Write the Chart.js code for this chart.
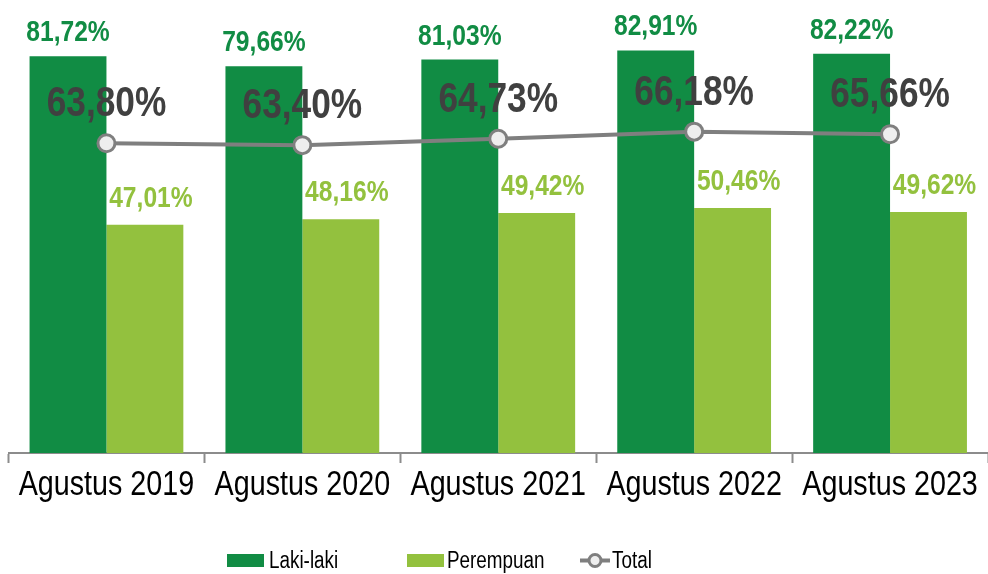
<!DOCTYPE html>
<html>
<head>
<meta charset="utf-8">
<script src="https://cdn.jsdelivr.net/npm/chart.js@4.4.0/dist/chart.umd.min.js"></script>
<style>
  html, body { margin: 0; padding: 0; background: #fff; }
  #wrap { width: 988px; height: 574px; }
</style>
</head>
<body>
<div id="wrap"><canvas id="chart" width="988" height="574"></canvas></div>
<script>
// data
const LABELS = ["Agustus 2019", "Agustus 2020", "Agustus 2021", "Agustus 2022", "Agustus 2023"];
const LAKI = [81.72, 79.66, 81.03, 82.91, 82.22];
const PEREMPUAN = [47.01, 48.16, 49.42, 50.46, 49.62];
const TOTAL = [63.80, 63.40, 64.73, 66.18, 65.66];

const GREEN = "#118C44";
const LIGHT = "#93C13E";
const GREY = "#7F7F7F";
const DARK = "#404040";
const FONT = "'Liberation Sans', Arial, sans-serif";
const SQUEEZE = 0.82; // no Arial Narrow here, so squash Liberation Sans

const fmt = (v) => v.toFixed(2).replace(".", ",") + "%";

// draw text squeezed horizontally, x is where the align point goes
function narrowText(ctx, text, x, y, align) {
  ctx.save();
  ctx.translate(x, y);
  ctx.scale(SQUEEZE, 1);
  ctx.textAlign = align || "center";
  ctx.fillText(text, 0, 0);
  ctx.restore();
}

// value labels, x tick labels and legend
const labelPlugin = {
  id: "labels",
  afterDatasetsDraw(chart) {
    const ctx = chart.ctx;
    ctx.save();
    ctx.textBaseline = "alphabetic";

    ctx.font = "bold 30px " + FONT;
    ctx.fillStyle = GREEN;
    chart.getDatasetMeta(1).data.forEach((el, i) => {
      narrowText(ctx, fmt(LAKI[i]), el.x, el.y - 15);
    });

    ctx.fillStyle = LIGHT;
    chart.getDatasetMeta(2).data.forEach((el, i) => {
      narrowText(ctx, fmt(PEREMPUAN[i]), el.x + 6, el.y - 18);
    });

    ctx.font = "bold 43px " + FONT;
    ctx.fillStyle = DARK;
    chart.getDatasetMeta(0).data.forEach((el, i) => {
      narrowText(ctx, fmt(TOTAL[i]), el.x, el.y - 27);
    });
    ctx.restore();
  },
  afterDraw(chart) {
    const ctx = chart.ctx;
    const x = chart.scales.x;
    ctx.save();

    // category labels
    ctx.font = "35px " + FONT;
    ctx.fillStyle = "#000";
    ctx.textBaseline = "alphabetic";
    LABELS.forEach((lab, i) => {
      narrowText(ctx, lab, x.getPixelForTick(i), 495);
    });

    // legend
    const y = 560.5;
    ctx.font = "23px " + FONT;
    ctx.textBaseline = "middle";

    ctx.fillStyle = GREEN;
    ctx.fillRect(227, y - 6.5, 37, 13);
    ctx.fillStyle = "#000";
    narrowText(ctx, "Laki-laki", 269, y + 1, "left");

    ctx.fillStyle = LIGHT;
    ctx.fillRect(407, y - 6.5, 37, 13);
    ctx.fillStyle = "#000";
    narrowText(ctx, "Perempuan", 447, y + 1, "left");

    ctx.strokeStyle = GREY;
    ctx.lineWidth = 4;
    ctx.beginPath();
    ctx.moveTo(580, y);
    ctx.lineTo(610, y);
    ctx.stroke();
    ctx.beginPath();
    ctx.arc(595, y, 6, 0, Math.PI * 2);
    ctx.fillStyle = "#EEEEEE";
    ctx.fill();
    ctx.lineWidth = 3;
    ctx.stroke();
    ctx.fillStyle = "#000";
    narrowText(ctx, "Total", 612, y + 1, "left");
    ctx.restore();
  },
};

new Chart(document.getElementById("chart"), {
  type: "bar",
  data: {
    labels: LABELS,
    datasets: [
      {
        type: "line",
        label: "Total",
        data: TOTAL,
        borderColor: GREY,
        borderWidth: 4,
        pointRadius: 8.5,
        pointBorderWidth: 3,
        pointBackgroundColor: "#EEEEEE",
        pointBorderColor: GREY,
        tension: 0,
        clip: false,
        order: 0,
      },
      {
        label: "Laki-laki",
        data: LAKI,
        backgroundColor: GREEN,
        order: 1,
      },
      {
        label: "Perempuan",
        data: PEREMPUAN,
        backgroundColor: LIGHT,
        order: 1,
      },
    ],
  },
  options: {
    responsive: false,
    animation: false,
    datasets: {
      bar: { barPercentage: 1, categoryPercentage: 0.785 },
    },
    layout: { autoPadding: false, padding: { left: 8.5, right: -3, top: 16, bottom: 111 } },
    plugins: {
      legend: { display: false },
      tooltip: { enabled: false },
    },
    scales: {
      x: {
        grid: {
          display: true,
          offset: true,
          drawOnChartArea: false,
          drawTicks: true,
          tickLength: 10,
          tickWidth: 2,
          tickColor: "#8C8C8C",
        },
        border: { display: true, color: "#8C8C8C", width: 2 },
        ticks: { display: false },
      },
      y: {
        display: false,
        min: 0,
        max: 90,
      },
    },
  },
  plugins: [labelPlugin],
});
</script>
</body>
</html>
